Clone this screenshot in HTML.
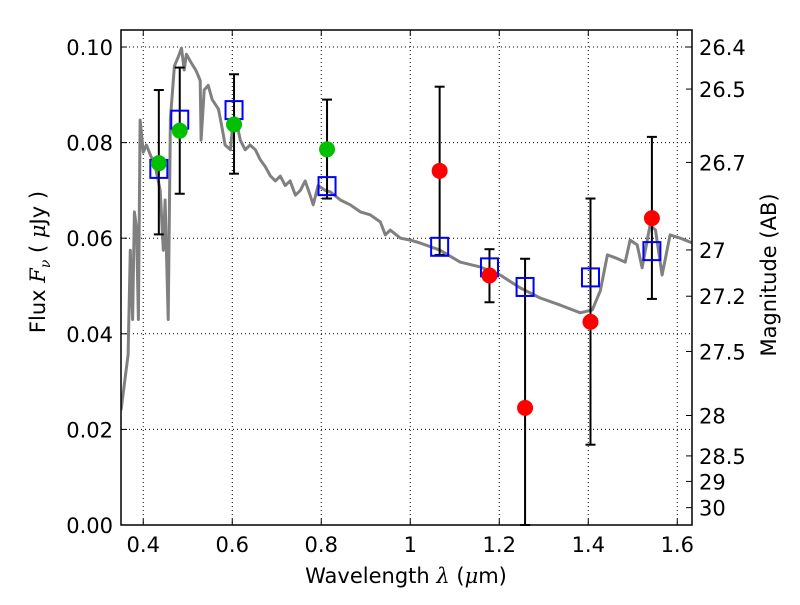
<!DOCTYPE html>
<html><head><meta charset="utf-8"><style>
html,body{margin:0;padding:0;background:#fff;}
svg text{font-family:"DejaVu Sans","Liberation Sans",sans-serif;fill:#000;}
</style></head><body>
<svg id="chart" width="800" height="600" viewBox="0 0 800 600" xmlns="http://www.w3.org/2000/svg">
<g id="grid"></g>
<g id="plot"></g>
<g id="axes"></g>
<text x="406" y="583" font-size="21" text-anchor="middle">Wavelength  <tspan font-style="italic" font-family="DejaVu Serif, serif">λ</tspan> (<tspan font-style="italic" font-family="DejaVu Serif, serif">μ</tspan>m)</text>
<text transform="translate(45,262) rotate(-90)" font-size="21" text-anchor="middle">Flux  <tspan font-style="italic" font-family="DejaVu Serif, serif">F</tspan><tspan font-style="italic" font-size="14" dy="5" font-family="DejaVu Serif, serif">ν</tspan><tspan dy="-5">  ( </tspan><tspan font-style="italic" font-family="DejaVu Serif, serif">μ</tspan>Jy )</text>
<text transform="translate(776,275) rotate(-90)" font-size="21" text-anchor="middle">Magnitude (AB)</text>
</svg>
<script>
const specWave=[0.35,0.366,0.371,0.376,0.38,0.385,0.389,0.393,0.4,0.407,0.416,0.427,0.438,0.445,0.449,0.456,0.461,0.47,0.479,0.486,0.492,0.497,0.506,0.519,0.528,0.53,0.537,0.546,0.555,0.569,0.578,0.584,0.596,0.602,0.611,0.618,0.629,0.64,0.652,0.663,0.674,0.686,0.697,0.708,0.719,0.73,0.742,0.753,0.764,0.775,0.782,0.793,0.809,0.82,0.843,0.865,0.888,0.91,0.933,0.944,0.955,0.978,1.0,1.022,1.067,1.112,1.157,1.202,1.247,1.292,1.337,1.382,1.409,1.427,1.443,1.461,1.483,1.494,1.51,1.521,1.539,1.551,1.566,1.584,1.607,1.634];
const specFlux=[0.024,0.0356,0.0575,0.043,0.0655,0.062,0.043,0.0847,0.078,0.0795,0.0774,0.075,0.070,0.0575,0.068,0.043,0.085,0.096,0.098,0.0998,0.0952,0.0985,0.097,0.095,0.093,0.0805,0.091,0.092,0.089,0.087,0.0826,0.0795,0.0785,0.0847,0.0837,0.0805,0.0785,0.0795,0.0785,0.0764,0.075,0.073,0.072,0.073,0.071,0.072,0.069,0.070,0.072,0.069,0.067,0.071,0.070,0.0697,0.068,0.067,0.0655,0.0649,0.0634,0.0607,0.0617,0.060,0.0596,0.059,0.0575,0.055,0.054,0.0523,0.0496,0.0475,0.046,0.0444,0.045,0.049,0.0565,0.0559,0.055,0.0596,0.0586,0.0538,0.0628,0.0617,0.0523,0.0607,0.060,0.059];
const greenWave=[0.435,0.482,0.604,0.813];
const greenFlux=[0.0757,0.0825,0.0838,0.0786];
const redWave=[1.066,1.178,1.258,1.405,1.543];
const redFlux=[0.0741,0.0522,0.0245,0.0425,0.0642];
const errWave=[0.435,0.482,0.604,0.813,1.066,1.178,1.258,1.405,1.543];
const errLow=[0.0608,0.0693,0.0735,0.0683,0.0565,0.0466,0.0,0.0168,0.0473];
const errHigh=[0.091,0.0957,0.0943,0.089,0.0917,0.0577,0.0557,0.0683,0.0812];
const modelFlux=[0.0745,0.0848,0.0868,0.0709,0.0582,0.0539,0.0498,0.0518,0.0573];
const xTicks=[0.4,0.6,0.8,1,1.2,1.4,1.6];
const xTickLabels=["0.4","0.6","0.8","1","1.2","1.4","1.6"];
const yTicks=[0,0.02,0.04,0.06,0.08,0.10];
const yTickLabels=["0.00","0.02","0.04","0.06","0.08","0.10"];
const magTicks=[26.4,26.5,26.7,27,27.2,27.5,28,28.5,29,30];

const L=121,R=692,T=30,B=525;
const xMin=0.35,xMax=1.6331,yMin=0,yMax=0.10356;
const X=v=>L+(v-xMin)/(xMax-xMin)*(R-L);
const Y=v=>B-(v-yMin)/(yMax-yMin)*(B-T);
const NS="http://www.w3.org/2000/svg";
function mk(tag,attrs,parent){const e=document.createElementNS(NS,tag);for(const k in attrs)e.setAttribute(k,attrs[k]);parent.appendChild(e);return e;}
const grid=document.getElementById('grid'),plot=document.getElementById('plot'),axes=document.getElementById('axes');

xTicks.forEach((t,i)=>{
  const gl=mk('line',{x1:X(t),x2:X(t),y1:T,y2:B,stroke:'#000','stroke-width':1,'stroke-dasharray':'1,3'},grid);
  
  
  const tk=mk('line',{x1:X(t),x2:X(t),y1:B,y2:B-6,stroke:'#000'},axes);
  
  
  const tk2=mk('line',{x1:X(t),x2:X(t),y1:T,y2:T+6,stroke:'#000'},axes);
  
  
  const tx=mk('text',{x:X(t),y:B+27,'font-size':21,'text-anchor':'middle'},axes);
  tx.textContent=xTickLabels[i];
  
  
});
yTicks.forEach((t,i)=>{
  const gl=mk('line',{x1:L,x2:R,y1:Y(t),y2:Y(t),stroke:'#000','stroke-width':1,'stroke-dasharray':'1,3'},grid);
  
  
  const tk=mk('line',{x1:L,x2:L+6,y1:Y(t),y2:Y(t),stroke:'#000'},axes);
  
  
  const tx=mk('text',{x:L-8,y:Y(t)+8,'font-size':21,'text-anchor':'end'},axes);
  tx.textContent=yTickLabels[i];
  
  
});
magTicks.forEach(m=>{
  const f=Math.pow(10,(23.9-m)/2.5);
  const tk=mk('line',{x1:R,x2:R-6,y1:Y(f),y2:Y(f),stroke:'#000'},axes);
  
  
  const tx=mk('text',{x:R+7,y:Y(f)+8,'font-size':21},axes);
  tx.textContent=String(m);
  
  
});

const clip=mk('clipPath',{id:'pc'},plot);
mk('rect',{x:L,y:T,width:R-L,height:B-T},clip);
const pd=specWave.map((w,i)=>(i?'L':'M')+X(w).toFixed(1)+','+Y(specFlux[i]).toFixed(1)).join(' ');
const sp=mk('path',{d:pd,fill:'none',stroke:'#808080','stroke-width':3,'stroke-linejoin':'round','clip-path':'url(#pc)'},plot);



errWave.forEach((w,i)=>{
  const g=mk('g',{},plot);
  
  
  mk('line',{x1:X(w),x2:X(w),y1:Y(errLow[i]),y2:Y(errHigh[i]),stroke:'#000','stroke-width':2,'clip-path':'url(#pc)'},g);
  mk('line',{x1:X(w)-5,x2:X(w)+5,y1:Y(errLow[i]),y2:Y(errLow[i]),stroke:'#000','stroke-width':2},g);
  mk('line',{x1:X(w)-5,x2:X(w)+5,y1:Y(errHigh[i]),y2:Y(errHigh[i]),stroke:'#000','stroke-width':2},g);
});
errWave.forEach((w,i)=>{
  const r=mk('rect',{x:X(w)-8.5,y:Y(modelFlux[i])-9,width:17,height:18,fill:'none',stroke:'#0000ff','stroke-width':2},plot);
  
  
});
greenWave.forEach((w,i)=>{
  const c=mk('circle',{cx:X(w),cy:Y(greenFlux[i]),r:8,fill:'#00c000'},plot);
  
  
});
redWave.forEach((w,i)=>{
  const c=mk('circle',{cx:X(w),cy:Y(redFlux[i]),r:8,fill:'#ff0000'},plot);
  
  
});
const fr=mk('rect',{x:L,y:T,width:R-L,height:B-T,fill:'none',stroke:'#000','stroke-width':1.5},axes);


</script>
</body></html>
